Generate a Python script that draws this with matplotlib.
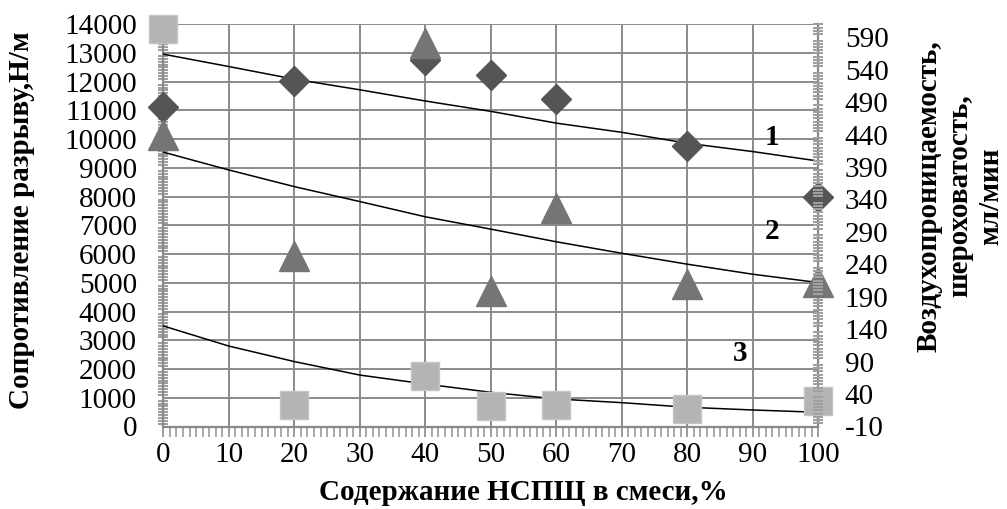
import matplotlib
matplotlib.use("Agg")
import matplotlib.pyplot as plt
from matplotlib.ticker import MultipleLocator

plt.rcParams['font.family'] = ['Liberation Serif', 'DejaVu Serif']
plt.rcParams['axes.unicode_minus'] = False

# content of NSPSh in blend, %
x_pts = [0, 20, 40, 50, 60, 80, 100]

# curve 1 (diamonds), 2 (triangles), 3 (squares), read in N/m units of the left axis
s1 = [11130, 12040, 12740, 12240, 11400, 9780, 8000]
s2 = [10150, 5930, 13350, 4710, 7610, 4970, 5040]
s3 = [13820, 750, 1770, 700, 750, 610, 880]

x_trend = [0, 10, 20, 30, 40, 50, 60, 70, 80, 90, 100]
t1 = [12960, 12530, 12090, 11720, 11330, 10970, 10560, 10240, 9860, 9570, 9240]
t2 = [9550, 8930, 8350, 7830, 7300, 6870, 6430, 6030, 5650, 5300, 5010]
t3 = [3500, 2800, 2260, 1790, 1480, 1190, 960, 830, 670, 575, 495]

left_ticks = list(range(0, 14001, 1000))
right_ticks = list(range(-10, 591, 50))
x_ticks = list(range(0, 101, 10))

W, H = 1007, 509
fig = plt.figure(figsize=(W / 100, H / 100), dpi=100)
ax = fig.add_axes([163.3 / W, 1 - 426.5 / H, (818.3 - 163.3) / W, (426.5 - 24.3) / H])

grid_c = '#8a8a8a'
ax.set_xlim(0, 100)
ax.set_ylim(0, 14000)
ax.set_xticks(x_ticks)
ax.set_yticks(left_ticks)
ax.xaxis.set_minor_locator(MultipleLocator(1))
ax.yaxis.set_minor_locator(MultipleLocator(100))
ax.grid(True, which='major', color=grid_c, lw=1.4)
ax.set_axisbelow(True)
for side in ['left', 'right', 'bottom']:
    ax.spines[side].set_color(grid_c)
    ax.spines[side].set_linewidth(1.6)
ax.spines['top'].set_visible(False)

ax.tick_params(axis='y', which='major', length=0, pad=19, labelsize=21)
ax.tick_params(axis='y', which='minor', direction='inout', length=7, width=1.5, color='#a0a0a0')
ax.tick_params(axis='x', which='major', direction='out', length=7, width=1.2, color=grid_c, pad=4, labelsize=21)
ax.tick_params(axis='x', which='minor', direction='out', length=7, width=1.2, color='#999999')

# trend lines
ax.plot(x_trend, t1, color='black', lw=1.1, zorder=3)
ax.plot(x_trend, t2, color='black', lw=1.1, zorder=3)
ax.plot(x_trend, t3, color='black', lw=1.1, zorder=3)

# measured points
ax.plot(x_pts, s1, ls='none', marker='D', ms=15, color='#555555', mec='#555555', zorder=4, clip_on=False)
ax.plot(x_pts, s2, ls='none', marker='^', ms=21, color='#757575', mec='#757575', zorder=4, clip_on=False)
ax.plot(x_pts, s3, ls='none', marker='s', ms=20, color='#b4b4b4', mec='#c4c4c4', zorder=4, clip_on=False)

# curve numbers
ax.text(92.9, 10050, '1', fontsize=21, fontweight='bold', ha='center', va='center')
ax.text(92.9, 6780, '2', fontsize=21, fontweight='bold', ha='center', va='center')
ax.text(88.0, 2550, '3', fontsize=21, fontweight='bold', ha='center', va='center')

# right axis
ax2 = ax.twinx()
ax2.set_ylim(-10, 610)
ax2.set_yticks(right_ticks)
ax2.yaxis.set_minor_locator(MultipleLocator(5))
for side in ax2.spines:
    ax2.spines[side].set_visible(False)
ax2.tick_params(axis='y', which='major', length=0, pad=19, labelsize=21)
ax2.tick_params(axis='y', which='minor', direction='inout', length=7, width=1.5, color='#a0a0a0')

# axis titles
fig.text(22 / W, 1 - 220 / H, 'Сопротивление разрыву,Н/м', rotation=90,
         ha='center', va='center', fontsize=21, fontweight='bold')
fig.text(523 / W, 1 - 492 / H, 'Содержание НСПЩ в смеси,%',
         ha='center', va='center', fontsize=21, fontweight='bold')
fig.text(960 / W, 1 - 196 / H, 'Воздухопроницаемость,\nшероховатость,\nмл/мин', rotation=90,
         ha='center', va='center', ma='center', fontsize=21, fontweight='bold', linespacing=1.2)

fig.savefig('out.png', dpi=100)
